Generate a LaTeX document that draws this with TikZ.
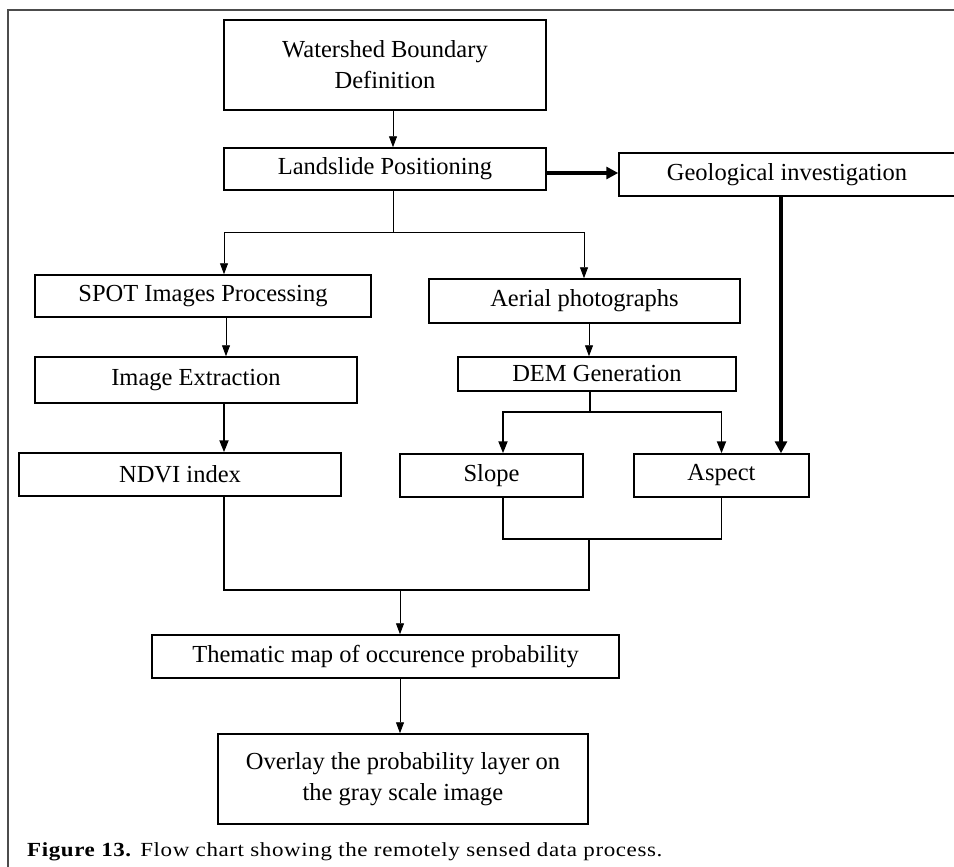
\documentclass[tikz,border=0pt]{standalone}
\usepackage{fontspec}
\setmainfont{Liberation Serif}
\newfontfamily\capfont[FakeStretch=1.15,LetterSpace=3]{Liberation Serif}
\usetikzlibrary{arrows.meta}
\begin{document}
\begin{tikzpicture}[x=1pt,y=-1pt,
  box/.style={draw, line width=1.5pt, inner sep=0pt, align=center,
    font=\fontsize{24.5}{31}\selectfont},
  thinarrow/.style={line width=0.9pt, -{Triangle[width=8pt,length=11pt]}},
  medarrow/.style={line width=1.8pt, -{Triangle[width=9pt,length=12pt]}},
  thickarrow/.style={line width=4pt, -{Triangle[width=12pt,length=12pt]}},
  thinline/.style={line width=0.9pt, line cap=rect},
  medline/.style={line width=1.8pt, line cap=rect},
  framestyle/.style={draw=gray!60!black, line width=1.5pt}]
\useasboundingbox (0,0) rectangle (954,867);

% frame
\coordinate (fbl) at (8,880);
\coordinate (ftl) at (8,10);
\coordinate (ftr) at (970,10);
\draw[framestyle] (fbl) -- (ftl) -- (ftr);

% boxes
\node[box, minimum width=322pt, minimum height=90pt] (ws) at (385,65) {Watershed Boundary\\Definition};
\node[box, minimum width=322pt, minimum height=42pt] (lp) at (385,169) {Landslide Positioning};
\node[box, minimum width=341pt, minimum height=43pt] (gi) at (789.5,174.5) {Geological investigation\hspace{5pt}};
\node[box, minimum width=336pt, minimum height=42pt] (spot) at (203,296) {SPOT Images Processing};
\node[box, minimum width=311pt, minimum height=44pt] (aer) at (584.5,301) {Aerial photographs};
\node[box, minimum width=322pt, minimum height=46pt] (ie) at (196,380) {Image Extraction};
\node[box, minimum width=278pt, minimum height=34pt] (dem) at (597,374) {DEM Generation};
\node[box, minimum width=322pt, minimum height=43pt] (ndvi) at (180,474.5) {NDVI index};
\node[box, minimum width=183pt, minimum height=43pt] (slope) at (491.5,475.5) {Slope};
\node[box, minimum width=175pt, minimum height=43pt] (aspect) at (721.5,475.5) {Aspect};
\node[box, minimum width=467pt, minimum height=43pt] (them) at (385.5,656.5) {Thematic map of occurence probability};
\node[box, minimum width=370pt, minimum height=90pt] (ovl) at (403,779) {Overlay the probability layer on\\the gray scale image};

% helper coordinates
\coordinate (x393) at (393,0);
\coordinate (y173) at (0,173);
\coordinate (j1) at (393,232);
\coordinate (xs) at (224,0);
\coordinate (xa) at (584,0);
\coordinate (x226) at (226,0);
\coordinate (x589) at (589,0);
\coordinate (j2) at (590,412);
\coordinate (x503) at (503,0);
\coordinate (x781) at (781,0);
\coordinate (j3) at (589,539);
\coordinate (j4) at (400,590);

% connectors
\draw[thinarrow] (ws.south -| x393) -- (lp.north -| x393);
\draw[thickarrow] (lp.east |- y173) -- (gi.west |- y173);
\draw[thinline] (lp.south -| j1) -- (j1);
\draw[thinarrow] (j1) -| (spot.north -| xs);
\draw[thinarrow] (j1) -| (aer.north -| xa);
\draw[thinarrow] (spot.south -| x226) -- (ie.north -| x226);
\draw[thinarrow] (aer.south -| x589) -- (dem.north -| x589);
\draw[medarrow] (ie.south -| xs) -- (ndvi.north -| xs);
\draw[medline] (dem.south -| j2) -- (j2);
\draw[medarrow] (j2) -| (slope.north -| x503);
\draw[medarrow] (j2) -| (aspect.north);
\draw[thickarrow] (gi.south -| x781) -- (aspect.north -| x781);
\draw[medline] (slope.south -| x503) |- (j3);
\draw[medline] (aspect.south) |- (j3);
\draw[medline] (j3) -- (j3 |- j4);
\draw[medline] (ndvi.south -| xs) |- (j3 |- j4);
\draw[thinarrow] (j4) -- (them.north -| j4);
\draw[thinarrow] (them.south -| j4) -- (ovl.north -| j4);

% caption
\node[anchor=base west, inner sep=0pt, font=\capfont\fontsize{20}{24}\selectfont] (cap) at (27,856)
  {\textbf{Figure 13.} Flow chart showing the remotely sensed data process.};
\end{tikzpicture}
\end{document}
